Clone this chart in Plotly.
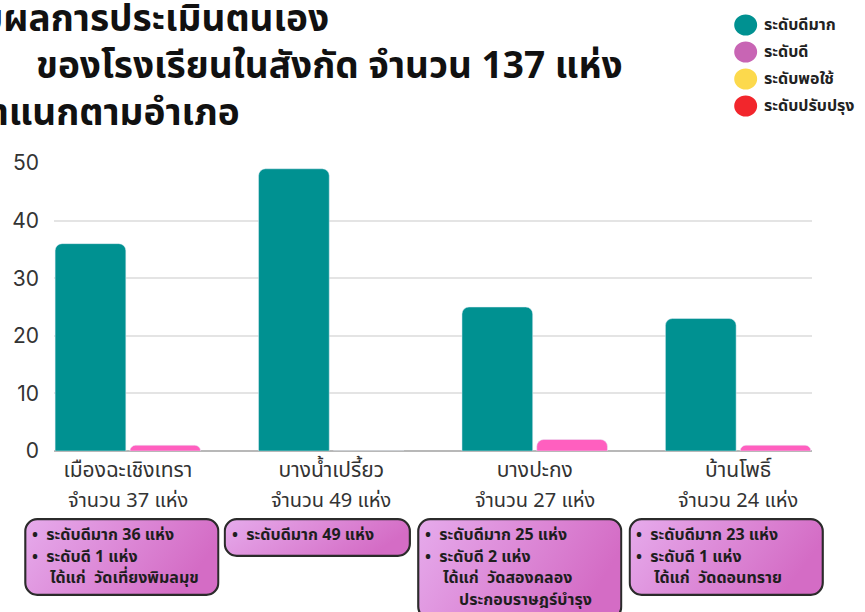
import base64
import plotly.graph_objects as go

# ---------------- data ----------------
districts = ["เมืองฉะเชิงเทรา", "บางน้ำเปรี้ยว", "บางปะกง", "บ้านโพธิ์"]
school_counts = [37, 49, 27, 24]
very_good = [36, 49, 25, 23]
good = [1, 0, 2, 1]
legend_labels = ["ระดับดีมาก", "ระดับดี", "ระดับพอใช้", "ระดับปรับปรุง"]
legend_colors = ["#009191", "#c865b4", "#fcd94c", "#f2262c"]
y_ticks = [0, 10, 20, 30, 40, 50]
title_lines = ["ระดับผลการประเมินตนเอง",
               "ของโรงเรียนในสังกัด จำนวน 137 แห่ง",
               "จำแนกตามอำเภอ"]
box_lines = [
    ["•  ระดับดีมาก 36 แห่ง", "•  ระดับดี 1 แห่ง", "ได้แก่  วัดเที่ยงพิมลมุข"],
    ["•  ระดับดีมาก 49 แห่ง"],
    ["•  ระดับดีมาก 25 แห่ง", "•  ระดับดี 2 แห่ง", "ได้แก่  วัดสองคลอง", "  ประกอบราษฎร์บำรุง"],
    ["•  ระดับดีมาก 23 แห่ง", "•  ระดับดี 1 แห่ง", "ได้แก่  วัดดอนทราย"],
]

TEAL = "#009191"
PINK = "#ff5fbf"
W, H = 865, 612
L, R, T, B = 52, 812, 163, 451
FONT = "Noto Sans Thai, Noto Sans, Inter, sans-serif"

def px(x):
    return (x - L) / (R - L)

def py(y):
    return (B - y) / (B - T)

fig = go.Figure()
fig.add_trace(go.Bar(x=districts, y=very_good, marker_color=TEAL, name=legend_labels[0],
                     showlegend=False))
fig.add_trace(go.Bar(x=districts, y=good, marker_color=PINK, name=legend_labels[1],
                     showlegend=False))

annotations = []
shapes = []
images = []

# second line of each category label
for d, n in zip(districts, school_counts):
    annotations.append(dict(text=f"จำนวน {n} แห่ง", x=d, y=py(501), xref="x", yref="paper",
                            xanchor="center", yanchor="middle", showarrow=False,
                            font=dict(size=20, color="#333333", family=FONT)))

# title (cropped at the left edge as in the reference)
title_ends = [330, 625, 240]
title_ys = [20, 67, 114]
for t, xe, ye in zip(title_lines, title_ends, title_ys):
    annotations.append(dict(text=f"<b>{t}</b>", x=px(xe), y=py(ye), xref="paper", yref="paper",
                            xanchor="right", yanchor="middle", showarrow=False,
                            font=dict(size=37, color="#111111", family=FONT)))

# legend
for i, (lab, col) in enumerate(zip(legend_labels, legend_colors)):
    cy = 25 + 27 * i
    shapes.append(dict(type="circle", xref="paper", yref="paper",
                       x0=px(734), x1=px(757), y0=py(cy + 10.5), y1=py(cy - 10.5),
                       fillcolor=col, line=dict(width=0)))
    annotations.append(dict(text=f"<b>{lab}</b>", x=px(762), y=py(cy), xref="paper", yref="paper",
                            xanchor="left", yanchor="middle", showarrow=False,
                            font=dict(size=16, color="#222222", family=FONT)))

# boxes
boxes = [(22, 518, 218, 596), (222, 518, 410, 557), (416, 518, 622, 620), (628, 518, 824, 596)]
for (x0, y0, x1, y1), lines in zip(boxes, box_lines):
    w, h = x1 - x0, y1 - y0
    svg = (f'<svg xmlns="http://www.w3.org/2000/svg" width="{w}" height="{h}" viewBox="0 0 {w} {h}">'
           '<defs><linearGradient id="g" x1="0" y1="0" x2="1" y2="0.3">'
           '<stop offset="0" stop-color="#e6abec"/><stop offset="1" stop-color="#d46cc5"/>'
           '</linearGradient></defs>'
           f'<rect x="1.2" y="1.2" width="{w-2.4}" height="{h-2.4}" rx="12" ry="12" '
           'fill="url(#g)" stroke="#2b2b2b" stroke-width="2.2"/></svg>')
    src = "data:image/svg+xml;base64," + base64.b64encode(svg.encode()).decode()
    images.append(dict(source=src, xref="paper", yref="paper", x=px(x0), y=py(y0),
                       sizex=px(x1) - px(x0), sizey=py(y0) - py(y1), xanchor="left",
                       yanchor="top", sizing="stretch", layer="above"))
    for j, line in enumerate(lines):
        if line.startswith("•"):
            indent = 6
        elif line.startswith(" "):
            indent = 40
        else:
            indent = 24
        annotations.append(dict(text=f"<b>{line.strip()}</b>",
                                x=px(x0 + indent), y=py(y0 + 17 + 21.5 * j), xref="paper", yref="paper",
                                xanchor="left", yanchor="middle", showarrow=False,
                                font=dict(size=16, color="#1e1e1e", family=FONT)))

fig.update_layout(
    width=W, height=H,
    margin=dict(l=L, r=W - R, t=T, b=H - B, pad=0),
    paper_bgcolor="white", plot_bgcolor="white",
    barmode="group", bargap=0.265, bargroupgap=0.054, barcornerradius=7,
    showlegend=False,
    xaxis=dict(type="category", range=[-0.363, 3.363], tickmode="array",
               tickvals=districts, ticktext=districts, showgrid=False, zeroline=False,
               showline=False, ticks="", ticklabelstandoff=4,
               tickfont=dict(size=21, color="#333333", family=FONT)),
    yaxis=dict(range=[0, 50], tickvals=y_ticks, showgrid=True, gridcolor="#e4e4e4", gridwidth=1.5,
               zeroline=True, zerolinecolor="#b8b8b8", zerolinewidth=1.5, showline=False,
               ticks="", ticklabelstandoff=14,
               tickfont=dict(size=21, color="#333333", family="Inter, Liberation Sans, sans-serif")),
    annotations=annotations, shapes=shapes, images=images,
)

fig.write_html("out.html", config={"displayModeBar": False},
               post_script="document.body.style.margin='0';")
